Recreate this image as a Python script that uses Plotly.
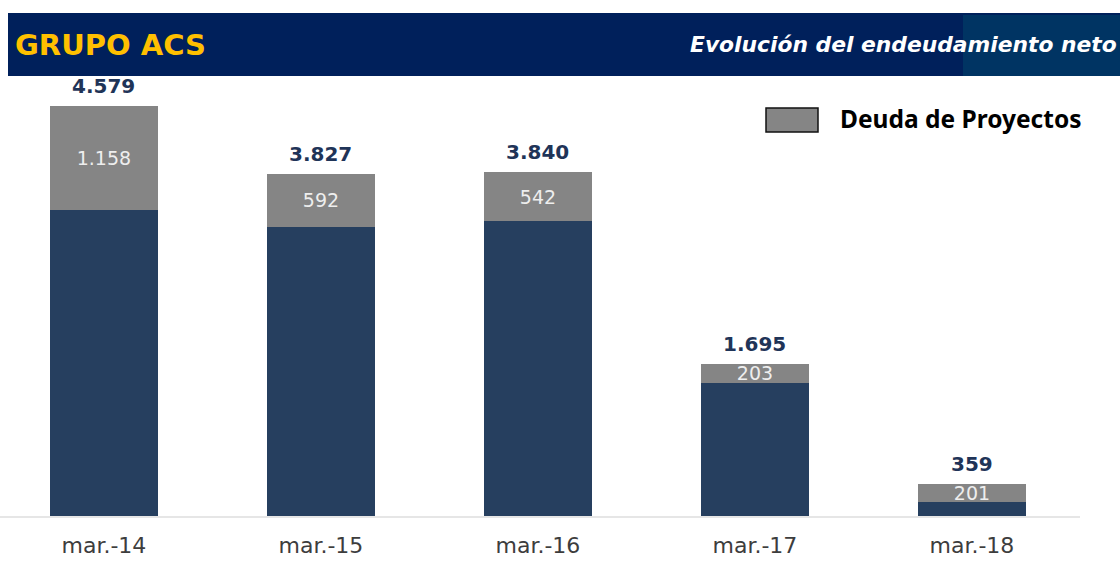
import plotly.graph_objects as go

categories = ["mar.-14", "mar.-15", "mar.-16", "mar.-17", "mar.-18"]
total_debt = [4579, 3827, 3840, 1695, 359]
project_debt = [1158, 592, 542, 203, 201]
corporate_debt = [t - p for t, p in zip(total_debt, project_debt)]
total_labels = ["4.579", "3.827", "3.840", "1.695", "359"]
project_labels = ["1.158", "592", "542", "203", "201"]

W, H = 1120, 561
L, R, T, B = 0, 40, 100, 45
PW, PH = W - L - R, H - T - B

def px(x):
    return (x - L) / PW

def py(y):
    return (H - B - y) / PH

fig = go.Figure()
fig.add_trace(go.Bar(
    x=categories, y=corporate_debt, name="Deuda Corporativa",
    marker=dict(color="#263f5f", line=dict(width=0)), width=0.5,
    showlegend=False, hoverinfo="skip",
))
fig.add_trace(go.Bar(
    x=categories, y=project_debt, name="Deuda de Proyectos",
    marker=dict(color="#858585", line=dict(width=0)), width=0.5,
    text=project_labels, textposition="inside", insidetextanchor="middle",
    constraintext="none",
    textfont=dict(color="#eeeeee", size=19, family="DejaVu Sans"),
    showlegend=False, hoverinfo="skip",
))

for c, t, lab in zip(categories, total_debt, total_labels):
    fig.add_annotation(x=c, y=t, text="<b>" + lab + "</b>", showarrow=False,
                       yanchor="bottom", yshift=6,
                       font=dict(size=20, color="#1f3458", family="DejaVu Sans"))

# header band
fig.add_shape(type="rect", xref="paper", yref="paper",
              x0=px(8), x1=px(1120), y0=py(76), y1=py(13),
              fillcolor="#00205b", line=dict(width=0), layer="below")
fig.add_shape(type="rect", xref="paper", yref="paper",
              x0=px(963), x1=px(1120), y0=py(76), y1=py(15),
              fillcolor="#003463", line=dict(width=0), layer="below")
fig.add_annotation(xref="paper", yref="paper", x=px(13), y=py(45),
                   xanchor="left", yanchor="middle", showarrow=False,
                   text="<b>GRUPO ACS</b>",
                   font=dict(size=29, color="#ffc000", family="DejaVu Sans"))
fig.add_annotation(xref="paper", yref="paper", x=px(1119), y=py(45),
                   xanchor="right", yanchor="middle", showarrow=False,
                   text="<b><i>Evolución del endeudamiento neto</i></b>",
                   font=dict(size=21.8, color="#ffffff", family="DejaVu Sans"))

# legend
fig.add_shape(type="rect", xref="paper", yref="paper",
              x0=px(766), x1=px(818), y0=py(132), y1=py(108),
              fillcolor="#858585", line=dict(width=1.5, color="#111111"))
fig.add_annotation(xref="paper", yref="paper", x=px(838), y=py(119),
                   xanchor="left", yanchor="middle", showarrow=False,
                   text="<b>Deuda de Proyectos</b>",
                   font=dict(size=24.5, color="#000000", family="Noto Sans"))

fig.update_layout(
    barmode="stack", width=W, height=H,
    margin=dict(l=L, r=R, t=T, b=B, autoexpand=False),
    paper_bgcolor="white", plot_bgcolor="white",
    xaxis=dict(range=[-0.479, 4.498], showgrid=False, showline=True,
               automargin=False,
               linecolor="#e6e6e6", linewidth=1.5, ticks="outside",
               ticklen=9, tickcolor="rgba(0,0,0,0)",
               tickfont=dict(size=22, color="#3d3d3d", family="DejaVu Sans")),
    yaxis=dict(range=[0, 4650], visible=False, showgrid=False, automargin=False),
    bargap=0.5,
)

fig.write_html("out.html", config={"displayModeBar": False},
               post_script="document.body.style.margin='0';document.body.style.overflow='hidden';")
